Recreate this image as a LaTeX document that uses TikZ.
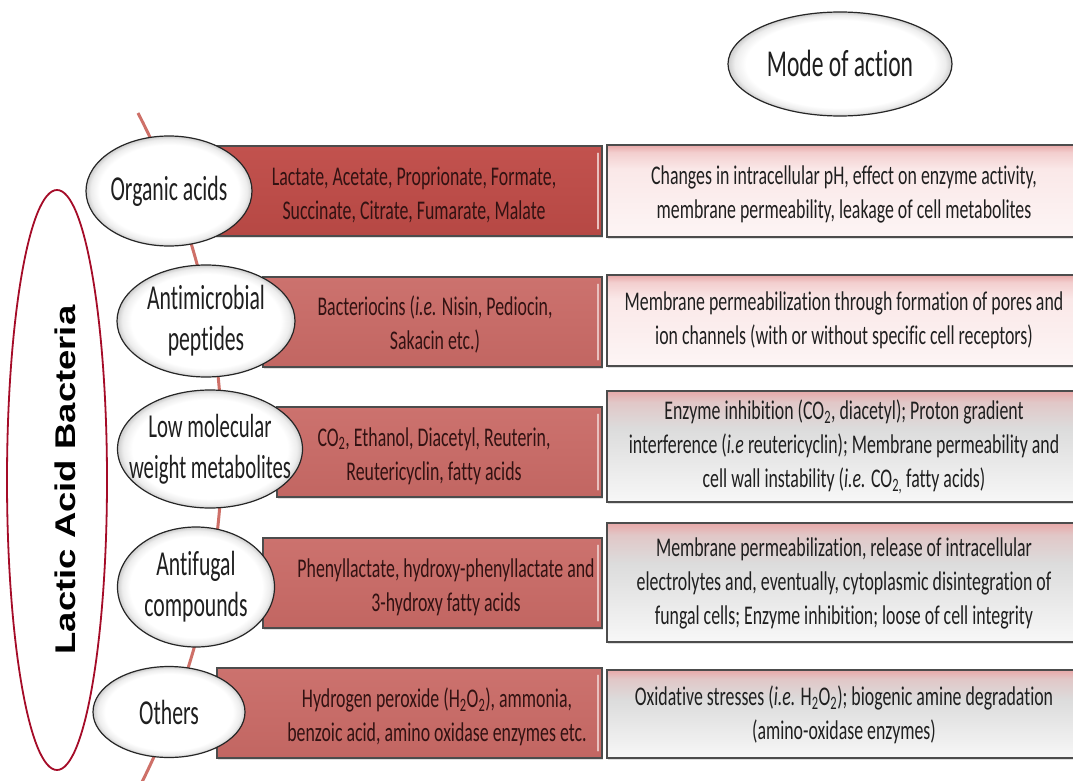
\documentclass[tikz,border=0pt]{standalone}
\usepackage{fontspec}
\usetikzlibrary{shapes.geometric,shadows}
\newfontfamily\calib[FakeStretch=0.66, Ligatures=NoCommon]{Carlito}
\newfontfamily\calibl[FakeStretch=0.62, Ligatures=NoCommon]{Carlito}
\newfontfamily\arialb{Liberation Sans}
\definecolor{redA}{RGB}{194,82,78}
\definecolor{redAd}{RGB}{182,72,68}
\definecolor{redB}{RGB}{204,114,110}
\definecolor{redBd}{RGB}{194,102,98}
\definecolor{curvecol}{RGB}{206,112,104}
\definecolor{labcol}{RGB}{165,12,40}
\definecolor{redtext}{RGB}{50,18,18}
\definecolor{pinkTop}{RGB}{232,168,168}
\definecolor{pinkMid}{RGB}{250,232,232}
\definecolor{pinkLow}{RGB}{253,245,245}
\definecolor{grayMid}{RGB}{220,220,220}
\pgfdeclareverticalshading{pinkshade}{100bp}{color(0bp)=(pinkLow); color(25bp)=(pinkLow); color(62bp)=(pinkMid); color(71bp)=(pinkTop!40!pinkMid); color(75bp)=(pinkTop); color(100bp)=(pinkTop)}
\pgfdeclareverticalshading{grayshade}{100bp}{color(0bp)=(white); color(25bp)=(white!97!black); color(58bp)=(grayMid); color(70bp)=(grayMid!60!pinkTop); color(75bp)=(pinkTop); color(100bp)=(pinkTop)}
\pgfdeclareradialshading{ellshade}{\pgfpoint{0bp}{0bp}}{color(0bp)=(white); color(21bp)=(white); color(23.5bp)=(white!93!black); color(25bp)=(white!80!black); color(50bp)=(white!80!black)}
\tikzset{
  curve/.style={draw=curvecol, line width=3pt},
  rbox/.style={rectangle, draw=black!70, line width=1.4pt, inner sep=0pt,
     drop shadow={shadow xshift=1pt, shadow yshift=-2pt, opacity=0.25}},
  rboxA/.style={rbox, top color=redA, bottom color=redAd},
  rboxB/.style={rbox, top color=redB, bottom color=redBd},
  hilite/.style={draw=white!55!redB, line width=1.6pt, line cap=round},
  mbox/.style={rectangle, draw=black!70, line width=1.4pt, inner sep=0pt,
     drop shadow={shadow xshift=1pt, shadow yshift=-2pt, opacity=0.25}},
  mboxP/.style={mbox, shading=pinkshade},
  mboxG/.style={mbox, shading=grayshade},
  lbl/.style={ellipse, draw=black!85, line width=1.2pt, inner sep=0pt, shading=ellshade},
  btxt/.style={inner sep=0pt, align=center, font=\calib\fontsize{27}{34}\selectfont},
  rtxt/.style={btxt, text=redtext},
  mtxt/.style={btxt, text=black!88},
  ltxt/.style={inner sep=0pt, align=center, text=black!88, font=\calibl\fontsize{35}{41}\selectfont},
}
\begin{document}
\begin{tikzpicture}[x=1pt,y=-1pt]
\clip (0,0) rectangle (1073,781);
\fill[white] (0,0) rectangle (1073,781);

% the red curved line behind the rows
\coordinate (ctop) at (138,113);
\coordinate (cbot) at (138,790);
\draw[curve] (ctop) .. controls (250,330) and (250,570) .. (cbot);

% Lactic Acid Bacteria
\node[ellipse, draw=labcol, line width=1.8pt, minimum width=100pt, minimum height=580pt, inner sep=0pt] (lab) at (57,480) {};
\node[rotate=90, inner sep=0pt, font=\arialb\bfseries\fontsize{36.5}{40}\selectfont] (labt) at (65,480) {\scalebox{1}[0.78]{Lactic Acid Bacteria}};

% Mode of action
\node[lbl, minimum width=224pt, minimum height=104pt] (mode) at (840,64) {};
\node[ltxt, font=\calibl\fontsize{38}{44}\selectfont] (modet) at (840,63) {Mode of action};

% red boxes
\node[rboxA, minimum width=387pt, minimum height=90pt] (r1) at (408.5,191) {};
\node[rboxB, minimum width=339pt, minimum height=90pt] (r2) at (432.5,322) {};
\node[rboxB, minimum width=325pt, minimum height=90pt] (r3) at (439.5,452) {};
\node[rboxB, minimum width=339pt, minimum height=90pt] (r4) at (432.5,583) {};
\node[rboxB, minimum width=385pt, minimum height=90pt] (r5) at (409.5,713) {};
\foreach \b in {r1,r2,r3,r4,r5}{
  \draw[hilite] ([xshift=-4.5pt,yshift=-8pt]\b.north east) -- ([xshift=-4.5pt,yshift=8pt]\b.south east);
}

\node[rtxt] (r1t) at (414,195) {Lactate, Acetate, Proprionate, Formate,\\Succinate, Citrate, Fumarate, Malate};
\node[rtxt] (r2t) at (435,325) {Bacteriocins (\textit{i.e.} Nisin, Pediocin,\\Sakacin etc.)};
\node[rtxt] (r3t) at (434,456) {CO\textsubscript{2}, Ethanol, Diacetyl, Reuterin,\\Reutericyclin, fatty acids};
\node[rtxt] (r4t) at (446,587) {Phenyllactate, hydroxy-phenyllactate and\\3-hydroxy fatty acids};
\node[rtxt] (r5t) at (437,717) {Hydrogen peroxide (H\textsubscript{2}O\textsubscript{2}), ammonia,\\benzoic acid, amino oxidase enzymes etc.};

% ellipses
\node[lbl, minimum width=166pt, minimum height=110pt] (e1) at (169,191) {};
\node[lbl, minimum width=178pt, minimum height=112pt] (e2) at (206,321) {};
\node[lbl, minimum width=185pt, minimum height=118pt] (e3) at (210,449) {};
\node[lbl, minimum width=157pt, minimum height=120pt] (e4) at (196,587) {};
\node[lbl, minimum width=152pt, minimum height=91pt] (e5) at (169,712) {};

\node[ltxt] (e1t) at (e1) {Organic acids};
\node[ltxt] (e2t) at (e2) {Antimicrobial\\peptides};
\node[ltxt, font=\calibl\fontsize{33.5}{41}\selectfont] (e3t) at (e3) {Low molecular\\weight metabolites};
\node[ltxt] (e4t) at (e4) {Antifugal\\compounds};
\node[ltxt] (e5t) at (e5) {Others};

% mode of action boxes
\node[mboxP, minimum width=474pt, minimum height=92pt] (m1) at (844,191) {};
\node[mboxP, minimum width=474pt, minimum height=91pt] (m2) at (844,320.5) {};
\node[mboxG, minimum width=474pt, minimum height=111pt] (m3) at (844,446.5) {};
\node[mboxG, minimum width=474pt, minimum height=119pt] (m4) at (844,582.5) {};
\node[mboxG, minimum width=474pt, minimum height=88pt] (m5) at (844,714) {};

\node[mtxt] (m1t) at (844,194) {Changes in intracellular pH, effect on enzyme activity,\\membrane permeability, leakage of cell metabolites};
\node[mtxt] (m2t) at (844,320) {Membrane permeabilization through formation of pores and\\ion channels (with or without specific cell receptors)};
\node[mtxt] (m3t) at (844,447) {Enzyme inhibition (CO\textsubscript{2}, diacetyl); Proton gradient\\interference (\textit{i.e} reutericyclin); Membrane permeability and\\cell wall instability (\textit{i.e.} CO\textsubscript{2,} fatty acids)};
\node[mtxt] (m4t) at (844,583) {Membrane permeabilization, release of intracellular\\electrolytes and, eventually, cytoplasmic disintegration of\\fungal cells; Enzyme inhibition; loose of cell integrity};
\node[mtxt] (m5t) at (844,715) {Oxidative stresses (\textit{i.e.} H\textsubscript{2}O\textsubscript{2}); biogenic amine degradation\\(amino-oxidase enzymes)};
\end{tikzpicture}
\end{document}
